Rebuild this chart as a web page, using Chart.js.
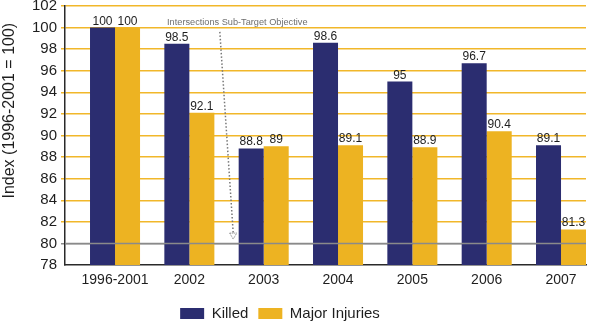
<!DOCTYPE html>
<html lang="en">
<head>
  <meta charset="UTF-8" />
  <title>Intersection Casualties Index</title>
  <script src="https://cdn.jsdelivr.net/npm/chart.js@4.4.1/dist/chart.umd.min.js"></script>
  <style>
    html, body { margin: 0; padding: 0; background: #fff; }
    #wrap { width: 590px; height: 326px; }
  </style>
</head>
<body>
  <div id="wrap"><canvas id="indexChart"></canvas></div>

  <script>
    // index values, 1996-2001 average = 100
    const years = ['1996-2001', '2002', '2003', '2004', '2005', '2006', '2007'];
    const killed = [100, 98.5, 88.8, 98.6, 95, 96.7, 89.1];
    const majorInjuries = [100, 92.1, 89, 89.1, 88.9, 90.4, 81.3];
    const targetLevel = 80;
    const yMin = 78, yMax = 102, yStep = 2;

    const NAVY = '#2b2d70';
    const GOLD = '#edb322';
    const GRID = '#f1b72a';
    const FONT = '"Liberation Sans", Arial, sans-serif';

    // target line, value labels, axis title and the sub-target arrow
    const overlay = {
      id: 'overlay',
      afterDatasetsDraw(chart) {
        const { ctx, chartArea, scales: { x, y } } = chart;
        ctx.save();

        const ty = Math.round(y.getPixelForValue(targetLevel)) + 0.5;
        ctx.strokeStyle = '#8a8a8a';
        ctx.lineWidth = 1.5;
        ctx.beginPath();
        ctx.moveTo(chartArea.left, ty);
        ctx.lineTo(chartArea.right, ty);
        ctx.stroke();

        ctx.font = '12px ' + FONT;
        ctx.fillStyle = '#1e1e1e';
        ctx.textAlign = 'center';
        ctx.textBaseline = 'alphabetic';
        chart.data.datasets.forEach((ds, di) => {
          chart.getDatasetMeta(di).data.forEach((bar, i) => {
            ctx.fillText(String(ds.data[i].y), bar.x, bar.y - 3);
          });
        });

        // y axis title, rotated
        ctx.save();
        ctx.translate(10, y.getPixelForValue(92.3));
        ctx.rotate(-Math.PI / 2);
        ctx.font = '16px ' + FONT;
        ctx.textBaseline = 'middle';
        ctx.fillText('Index (1996-2001 = 100)', 0, 0);
        ctx.restore();

        ctx.font = '9.2px ' + FONT;
        ctx.fillStyle = '#6e6e6e';
        ctx.textAlign = 'left';
        ctx.textBaseline = 'middle';
        ctx.fillText('Intersections Sub-Target Objective', x.getPixelForValue(0.70), y.getPixelForValue(100.45));

        const x0 = x.getPixelForValue(1.41), y0 = y.getPixelForValue(99.6);
        const x1 = x.getPixelForValue(1.59), y1 = y.getPixelForValue(targetLevel + 0.4);
        ctx.strokeStyle = '#777';
        ctx.lineWidth = 1.5;
        ctx.setLineDash([1.5, 2]);
        ctx.beginPath();
        ctx.moveTo(x0, y0);
        ctx.lineTo(x1, y1 - 6);
        ctx.stroke();
        ctx.setLineDash([1, 1]);
        ctx.lineWidth = 1;
        ctx.beginPath();
        ctx.moveTo(x1 - 3.5, y1 - 6);
        ctx.lineTo(x1 + 3.5, y1 - 6);
        ctx.lineTo(x1, y1);
        ctx.closePath();
        ctx.stroke();
        ctx.restore();
      }
    };

    const ctx = document.getElementById('indexChart').getContext('2d');
    new Chart(ctx, {
      type: 'bar',
      data: {
        datasets: [
          { label: 'Killed', data: killed.map((v, i) => ({ x: i, y: v })), backgroundColor: NAVY },
          { label: 'Major Injuries', data: majorInjuries.map((v, i) => ({ x: i, y: v })), backgroundColor: GOLD }
        ]
      },
      options: {
        responsive: true,
        maintainAspectRatio: false,
        animation: false,
        categoryPercentage: 0.673,
        barPercentage: 1,
        layout: { padding: { top: 6, right: 4, bottom: -5, left: -26 } },
        scales: {
          x: {
            type: 'linear',
            bounds: 'data',
            offset: false,
            min: -0.673,
            max: 6.336,
            afterBuildTicks: s => { s.ticks = years.map((_, i) => ({ value: i })); },
            afterFit: s => { s.height = 31; s.paddingLeft = 0; s.paddingRight = 0; },
            grid: { display: false, drawTicks: false, offset: false },
            border: { display: true, color: '#2a2a2a', width: 1.5 },
            ticks: {
              padding: 7,
              autoSkip: false,
              maxRotation: 0,
              color: '#1e1e1e',
              font: { family: FONT, size: 14 },
              callback: v => years[v]
            }
          },
          y: {
            min: yMin,
            max: yMax,
            afterFit: s => { s.width = 91; s.paddingTop = 0; s.paddingBottom = 0; },
            grid: {
              color: c => c.tick.value === targetLevel ? '#8a8a8a' : (c.tick.value === yMin ? 'rgba(0,0,0,0)' : GRID),
              lineWidth: 1.5,
              tickLength: 4
            },
            border: { display: true, color: '#2a2a2a', width: 1.5 },
            ticks: {
              stepSize: yStep,
              autoSkip: false,
              padding: 4,
              color: '#1e1e1e',
              font: { family: FONT, size: 15 }
            }
          }
        },
        plugins: {
          legend: {
            position: 'bottom',
            labels: {
              boxWidth: 24,
              boxHeight: 11,
              padding: 10,
              color: '#1e1e1e',
              font: { family: FONT, size: 15 }
            }
          },
          tooltip: { enabled: false }
        }
      },
      plugins: [overlay]
    });
  </script>
</body>
</html>
